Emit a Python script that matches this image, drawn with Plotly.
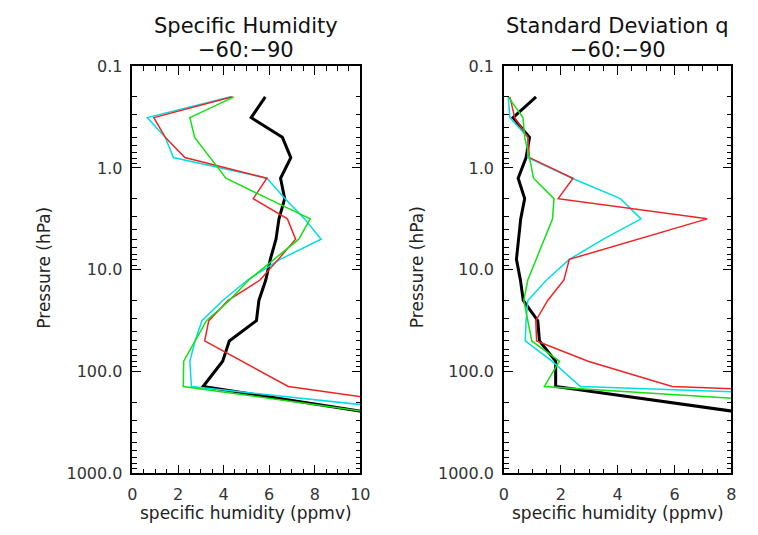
import plotly.graph_objects as go

# Pressure levels (hPa) shared by all profiles
pressure = [0.2, 0.32, 0.5, 0.79, 1.26, 2.0, 3.16, 5.0, 7.9, 12.6, 20, 31.6, 50, 79, 140, 300]

# Left panel: specific humidity (ppmv)
q_black = [5.83, 5.21, 6.58, 6.95, 6.50, 6.68, 6.43, 6.30, 6.05, 5.85, 5.55, 5.44, 4.25, 3.96, 3.10, 12.5]
q_cyan  = [4.32, 0.65, 1.44, 1.80, 5.90, 6.70, 7.55, 8.28, 6.48, 5.05, 3.96, 3.05, 2.75, 2.52, 2.59, 16.4]
q_red   = [4.39, 0.94, 1.44, 2.30, 5.90, 5.30, 6.80, 7.16, 6.40, 5.60, 4.20, 3.35, 3.17, 4.80, 6.84, 17.2]
q_green = [4.46, 2.52, 2.73, 3.40, 4.10, 5.95, 7.80, 7.30, 6.20, 5.10, 4.25, 3.25, 2.75, 2.25, 2.23, 12.9]

# Right panel: standard deviation of q (ppmv)
s_black = [1.13, 0.32, 0.90, 0.78, 0.50, 0.73, 0.59, 0.52, 0.44, 0.58, 0.68, 1.19, 1.25, 1.82, 1.82, 10.3]
s_cyan  = [0.15, 0.21, 0.84, 0.84, 2.40, 4.10, 4.82, 3.50, 2.30, 1.50, 0.84, 0.78, 0.75, 1.69, 2.69, 36.0]
s_red   = [0.21, 0.38, 0.84, 0.90, 2.43, 1.91, 7.15, 4.70, 2.30, 2.11, 1.54, 1.12, 1.15, 2.96, 5.92, 38.0]
s_green = [0.15, 0.67, 0.73, 0.90, 1.04, 1.76, 1.71, 1.42, 1.15, 0.84, 0.70, 0.85, 0.98, 1.95, 1.42, 20.4]

title_lines = [("Specific Humidity", "−60:−90"), ("Standard Deviation q", "−60:−90")]
x_title = "specific humidity (ppmv)"
y_title = "Pressure (hPa)"
y_tickvals = [0.1, 1, 10, 100, 1000]
y_ticktext = ["0.1", "1.0", "10.0", "100.0", "1000.0"]

series_left = [("black", q_black, 3), ("#00dde6", q_cyan, 1.5), ("#ee2424", q_red, 1.5), ("#14e014", q_green, 1.5)]
series_right = [("black", s_black, 3), ("#00dde6", s_cyan, 1.5), ("#ee2424", s_red, 1.5), ("#14e014", s_green, 1.5)]

fig = go.Figure()
for col, vals, w in series_left:
    fig.add_trace(go.Scatter(x=vals, y=pressure, mode="lines", line=dict(color=col, width=w),
                             xaxis="x", yaxis="y", showlegend=False))
for col, vals, w in series_right:
    fig.add_trace(go.Scatter(x=vals, y=pressure, mode="lines", line=dict(color=col, width=w),
                             xaxis="x2", yaxis="y2", showlegend=False))

W, H = 758, 535
ytop, ybot = 59.3, 481.5
ydom = [1 - ybot / H, 1 - ytop / H]
xd1 = [130 / W, 362.5 / W]
xd2 = [509 / W, 741 / W]

tickfont = dict(family="DejaVu Sans, sans-serif", size=16, color="#333")

def xax(dom, rng, dt, anchor):
    return dict(domain=dom, range=rng, anchor=anchor, showgrid=False, zeroline=False,
                showline=True, linecolor="black", linewidth=1.5, mirror="allticks",
                ticks="inside", ticklen=9, tickwidth=1, tickcolor="black", dtick=dt, tick0=0,
                tickfont=tickfont, ticklabelstandoff=6,
                minor=dict(ticks="inside", ticklen=5, dtick=0.5, tickcolor="black", showgrid=False))

def yax(anchor):
    return dict(domain=ydom, type="log", range=[3, -1], anchor=anchor, showgrid=False, zeroline=False,
                showline=True, linecolor="black", linewidth=1.5, mirror="allticks",
                ticks="inside", ticklen=9, tickwidth=1, tickcolor="black",
                tickmode="array", tickvals=y_tickvals, ticktext=y_ticktext, tickfont=tickfont,
                ticklabelstandoff=5,
                minor=dict(ticks="inside", ticklen=5, dtick="D1", tickcolor="black", showgrid=False))

fig.update_layout(
    width=W, height=H, margin=dict(l=0, r=0, t=0, b=0),
    paper_bgcolor="white", plot_bgcolor="white",
    xaxis=xax(xd1, [0, 10], 2, "y"),
    yaxis=yax("x"),
    xaxis2=xax(xd2, [0, 8], 2, "y2"),
    yaxis2=yax("x2"),
)

title_font = dict(family="DejaVu Sans, sans-serif", size=21, color="#111")
label_font = dict(family="DejaVu Sans, sans-serif", size=17, color="#222")
for dom, (l1, l2) in [(xd1, title_lines[0]), (xd2, title_lines[1])]:
    xc = (dom[0] + dom[1]) / 2
    fig.add_annotation(x=xc, y=1 - 18 / H, xref="paper", yref="paper",
                       text=l1, showarrow=False, xanchor="center", yanchor="middle", font=title_font)
    fig.add_annotation(x=xc, y=1 - 43 / H, xref="paper", yref="paper",
                       text=l2, showarrow=False, xanchor="center", yanchor="middle", font=title_font)
    fig.add_annotation(x=xc, y=1 - 523 / H, xref="paper", yref="paper",
                       text=x_title, showarrow=False, xanchor="center", yanchor="middle", font=label_font)
for xc in [40, 421]:
    fig.add_annotation(x=xc / W, y=1 - 268 / H, xref="paper", yref="paper", text=y_title,
                       textangle=-90, showarrow=False, xanchor="center", yanchor="middle", font=label_font)

fig.write_html("out.html")
